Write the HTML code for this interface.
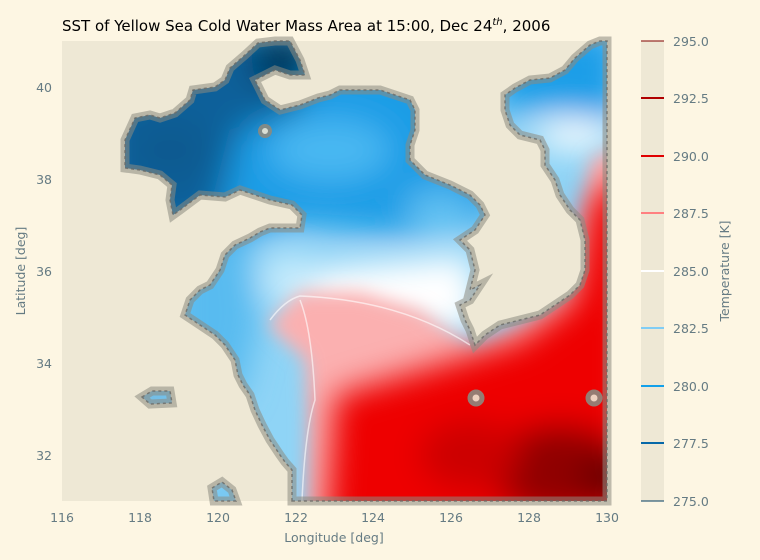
<!DOCTYPE html>
<html><head><meta charset="utf-8"><style>
body{margin:0;background:#fdf6e3;}
svg{display:block;font-family:"DejaVu Sans","Liberation Sans",sans-serif;}
</style></head><body>
<svg width="760" height="560" viewBox="0 0 760 560">
<defs>
<clipPath id="sea"><path id="seap" d="M292,501 L292,470 285,462 280,455 270,440 262,425 255,410 250,395 243,385 238,375 235,360 225,345 215,335 200,325 185,315 190,300 200,290 210,285 220,270 225,255 235,245 250,238 260,232 270,228 300,228 302,215 292,205 270,200 255,195 240,190 225,197 200,195 180,210 173,215 170,200 172,185 160,175 140,170 125,168 125,140 135,118 150,115 160,118 175,113 190,100 193,90 215,87 225,80 230,68 245,55 258,43 275,41 290,41 300,60 305,75 290,75 275,70 265,75 255,80 265,100 280,110 300,105 318,98 330,95 340,90 380,90 395,95 410,100 415,110 415,130 410,145 410,160 425,175 450,185 470,195 480,205 485,215 475,230 460,240 470,250 475,270 470,290 480,285 470,300 460,305 465,320 470,330 475,345 485,335 500,325 520,320 540,315 555,305 570,295 580,285 585,270 585,240 580,220 570,210 560,195 555,180 545,165 545,150 540,140 520,135 510,125 505,110 505,95 515,88 530,80 550,78 565,70 575,58 590,45 600,41 607,41 607,501 Z M212,488 L222,482 232,490 236,501 214,501 Z M142,397 L152,391 170,391 172,403 150,404 Z"/></clipPath>
<filter id="bl" x="-50%" y="-50%" width="200%" height="200%"><feGaussianBlur stdDeviation="16"/></filter>
<filter id="bl2" x="-50%" y="-50%" width="200%" height="200%"><feGaussianBlur stdDeviation="9"/></filter>
</defs>
<rect x="62" y="41" width="545" height="460" fill="#eee8d5"/>
<g clip-path="url(#sea)">
<rect x="62" y="41" width="545" height="460" fill="#8fd4f6"/>
<g filter="url(#bl)">
<path d="M100,60 L450,60 500,170 490,225 400,235 300,225 180,250 100,250 Z" fill="#1f9de6"/>
<path d="M100,30 L300,30 300,110 240,130 215,230 100,230 Z" fill="#0a609a"/>
<ellipse cx="285" cy="60" rx="35" ry="30" fill="#003a60"/>
<ellipse cx="170" cy="150" rx="40" ry="30" fill="#075a90"/>
<ellipse cx="330" cy="150" rx="60" ry="30" fill="#4ab8f2"/>
<ellipse cx="440" cy="210" rx="35" ry="20" fill="#5fc0f2"/>
<path d="M495,30 L620,30 620,120 560,110 495,110 Z" fill="#1a9ee8"/>
<ellipse cx="575" cy="135" rx="40" ry="14" fill="#ffffff"/>
<path d="M310,270 L470,255 480,330 420,330 300,320 Z" fill="#ffffff"/>
<ellipse cx="290" cy="280" rx="30" ry="25" fill="#c8ecfc"/>
<path d="M170,250 L250,240 260,320 240,400 170,400 Z" fill="#58bbf0"/>
<ellipse cx="152" cy="397" rx="15" ry="8" fill="#0868a8"/>
<ellipse cx="225" cy="495" rx="12" ry="10" fill="#2aa0e8"/>
</g>
<g filter="url(#bl2)">
<path d="M268,325 L300,292 360,292 420,310 475,350 550,310 575,290 590,160 630,140 630,530 308,530 308,420 305,360 Z" fill="#fbb0b0"/>
</g>
<g filter="url(#bl)">
<path d="M335,395 L420,370 520,340 575,300 590,200 630,170 630,540 325,540 Z" fill="#ee0000"/>
<ellipse cx="560" cy="470" rx="70" ry="45" fill="#900000"/>
<ellipse cx="470" cy="455" rx="50" ry="35" fill="#cc0000"/>
<ellipse cx="610" cy="480" rx="30" ry="30" fill="#700000"/>
</g>
<path d="M270,320 Q285,300 300,296 Q400,300 470,345 M300,300 Q312,330 315,400 Q305,430 302,501" fill="none" stroke="#fff" stroke-width="1.5" opacity=".6"/>
</g>
<use href="#seap" fill="none" stroke="#8c8a80" stroke-width="9" opacity=".55"/>
<use href="#seap" fill="none" stroke="#6a6a66" stroke-width="1.5" stroke-dasharray="3 3" opacity=".8"/>
<circle cx="265" cy="131" r="5" fill="#eee8d5" stroke="#8c8a80" stroke-width="4" opacity=".9"/>
<circle cx="476" cy="398" r="6" fill="#eee8d5" stroke="#8c8a80" stroke-width="5" opacity=".9"/>
<circle cx="594" cy="398" r="6" fill="#eee8d5" stroke="#8c8a80" stroke-width="5" opacity=".9"/>
<text x="62" y="31" font-size="15" fill="#000">SST of Yellow Sea Cold Water Mass Area at 15:00, Dec 24<tspan font-size="10" dy="-6" font-style="italic">th</tspan><tspan dy="6">, 2006</tspan></text>
<g font-size="12.5" fill="#657b83" text-anchor="end">
<text x="52" y="92">40</text><text x="52" y="184">38</text><text x="52" y="276">36</text><text x="52" y="368">34</text><text x="52" y="460">32</text>
</g>
<g font-size="12.5" fill="#657b83" text-anchor="middle">
<text x="62" y="522">116</text><text x="140" y="522">118</text><text x="218" y="522">120</text><text x="296" y="522">122</text><text x="373" y="522">124</text><text x="451" y="522">126</text><text x="529" y="522">128</text><text x="607" y="522">130</text>
<text x="334" y="542">Longitude [deg]</text>
<text transform="translate(25,271) rotate(-90)">Latitude  [deg]</text>
<text transform="translate(729,271) rotate(-90)">Temperature [K]</text>
</g>
<rect x="641" y="41" width="23" height="460" fill="#eee8d5"/>
<g stroke-width="2">
<line x1="641" x2="664" y1="41" y2="41" stroke="#800000" stroke-width="1"/>
<line x1="641" x2="664" y1="98" y2="98" stroke="#b00000"/>
<line x1="641" x2="664" y1="156" y2="156" stroke="#e00000"/>
<line x1="641" x2="664" y1="213" y2="213" stroke="#ff8080"/>
<line x1="641" x2="664" y1="271" y2="271" stroke="#ffffff"/>
<line x1="641" x2="664" y1="328" y2="328" stroke="#80cdf5"/>
<line x1="641" x2="664" y1="386" y2="386" stroke="#12a0ea"/>
<line x1="641" x2="664" y1="443" y2="443" stroke="#0668a8"/>
<line x1="641" x2="664" y1="501" y2="501" stroke="#003a60" stroke-width="1"/>
</g>
<g font-size="12.5" fill="#657b83">
<text x="673" y="46">295.0</text><text x="673" y="103">292.5</text><text x="673" y="161">290.0</text><text x="673" y="218">287.5</text><text x="673" y="276">285.0</text><text x="673" y="333">282.5</text><text x="673" y="391">280.0</text><text x="673" y="448">277.5</text><text x="673" y="506">275.0</text>
</g>
</svg>
</body></html>
